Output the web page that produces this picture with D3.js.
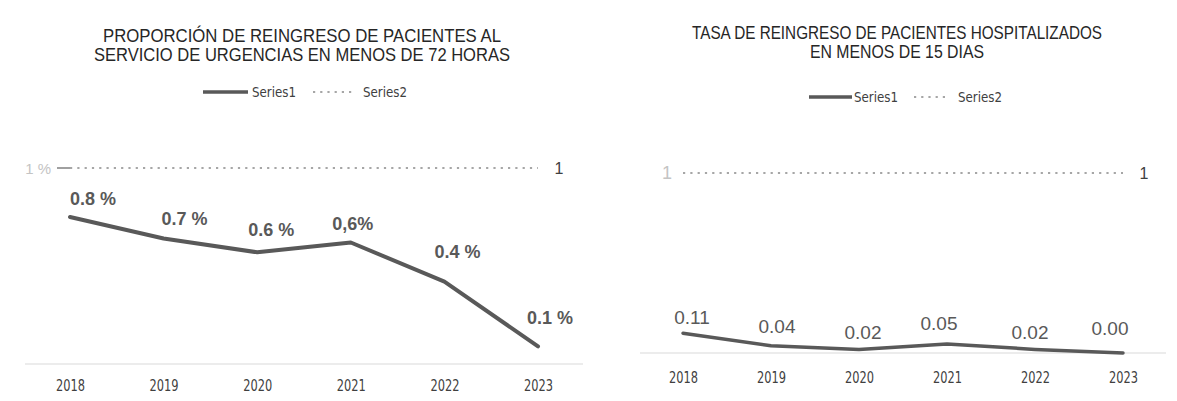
<!DOCTYPE html>
<html>
<head>
<meta charset="utf-8">
<script src="https://cdn.jsdelivr.net/npm/d3@7"></script>
<style>
  html, body { margin: 0; padding: 0; background: #ffffff; }
  svg { display: block; }
</style>
</head>
<body>
<svg id="chart" width="1177" height="401"></svg>
<script>
// ---------- DATA ----------
const years = ["2018", "2019", "2020", "2021", "2022", "2023"];

const leftTitle = ["PROPORCIÓN  DE REINGRESO  DE PACIENTES  AL", "SERVICIO DE URGENCIAS  EN MENOS DE 72 HORAS"];
const leftSeries1 = [0.75, 0.64, 0.57, 0.62, 0.42, 0.09];
const leftSeries2 = [1, 1, 1, 1, 1, 1];
const leftLabels = ["0.8 %", "0.7 %", "0.6 %", "0,6%", "0.4 %", "0.1 %"];
const leftAxisTick = "1 %";
const leftEndLabel = "1";

const rightTitle = ["TASA DE REINGRESO  DE PACIENTES  HOSPITALIZADOS", "EN MENOS DE 15 DIAS"];
const rightSeries1 = [0.11, 0.04, 0.02, 0.05, 0.02, 0.00];
const rightSeries2 = [1, 1, 1, 1, 1, 1];
const rightLabels = ["0.11", "0.04", "0.02", "0.05", "0.02", "0.00"];
const rightAxisTick = "1";
const rightEndLabel = "1";

const seriesNames = ["Series1", "Series2"];

// ---------- LAYOUT ----------
const svg = d3.select("#chart");

function drawPanel(cfg) {
  const g = svg.append("g");
  const x = d3.scalePoint().domain(years).range(cfg.xRange);
  const y = d3.scaleLinear().domain([0, 1]).range(cfg.yRange);

  // title
  cfg.title.forEach((t, i) => {
    g.append("text")
      .attr("x", cfg.titleX).attr("y", cfg.titleY[i])
      .attr("text-anchor", "middle")
      .attr("dominant-baseline", "central")
      .attr("font-family", "'Liberation Sans Narrow', 'Liberation Sans', Arial, sans-serif")
      .attr("font-size", 18)
      .attr("fill", "#262626")
      .attr("textLength", cfg.titleW[i])
      .attr("lengthAdjust", "spacingAndGlyphs")
      .text(t);
  });

  // legend
  const lg = g.append("g");
  const ly = cfg.legendY;
  lg.append("line").attr("x1", cfg.legend[0]).attr("x2", cfg.legend[1]).attr("y1", ly).attr("y2", ly)
    .attr("stroke", "#595959").attr("stroke-width", 3.5);
  lg.append("text").attr("x", cfg.legend[2]).attr("y", ly).attr("dominant-baseline", "central")
    .attr("font-family", "'Liberation Sans Narrow', 'DejaVu Sans Condensed', 'Liberation Sans', sans-serif")
    .attr("font-size", 14).attr("fill", "#404040")
    .attr("textLength", cfg.legendTextW).attr("lengthAdjust", "spacingAndGlyphs")
    .text(seriesNames[0]);
  lg.append("line").attr("x1", cfg.legend[3]).attr("x2", cfg.legend[4]).attr("y1", ly).attr("y2", ly)
    .attr("stroke", "#a6a6a6").attr("stroke-width", 2.2).attr("stroke-dasharray", "2.2,5");
  lg.append("text").attr("x", cfg.legend[5]).attr("y", ly).attr("dominant-baseline", "central")
    .attr("font-family", "'Liberation Sans Narrow', 'DejaVu Sans Condensed', 'Liberation Sans', sans-serif")
    .attr("font-size", 14).attr("fill", "#404040")
    .attr("textLength", cfg.legendTextW).attr("lengthAdjust", "spacingAndGlyphs")
    .text(seriesNames[1]);

  // baseline
  g.append("line")
    .attr("x1", cfg.baseX[0]).attr("x2", cfg.baseX[1])
    .attr("y1", y(0)).attr("y2", y(0))
    .attr("stroke", "#d9d9d9").attr("stroke-width", 1);

  // x axis (years)
  const ax = g.append("g")
    .attr("transform", `translate(0,${y(0)})`)
    .call(d3.axisBottom(x).tickSize(0).tickPadding(cfg.yearPad));
  ax.select(".domain").remove();
  ax.selectAll("text")
    .attr("font-family", "'Liberation Sans Narrow', 'DejaVu Sans Condensed', 'Liberation Sans', sans-serif")
    .attr("font-size", 15).attr("fill", "#404040")
    .attr("textLength", 29).attr("lengthAdjust", "spacingAndGlyphs");

  // y tick label at 1
  g.append("text")
    .attr("x", cfg.tickX).attr("y", y(1))
    .attr("text-anchor", "end").attr("dominant-baseline", "central")
    .attr("font-family", "'Liberation Sans', Arial, sans-serif")
    .attr("font-size", cfg.tickSize).attr("fill", "#c4c4c4")
    .text(cfg.axisTick);
  if (cfg.tickDash) {
    g.append("line").attr("x1", cfg.tickDash[0]).attr("x2", cfg.tickDash[1])
      .attr("y1", y(1)).attr("y2", y(1)).attr("stroke", "#808080").attr("stroke-width", 1.5);
  }

  // series2 dotted
  const line = d3.line().x((d, i) => x(years[i])).y(d => y(d));
  g.append("path").datum(cfg.s2)
    .attr("d", line).attr("fill", "none")
    .attr("stroke", "#a6a6a6").attr("stroke-width", 2.2).attr("stroke-dasharray", "2.2,5.1");

  g.append("text")
    .attr("x", x(years[years.length - 1]) + cfg.endDx).attr("y", y(1))
    .attr("text-anchor", "middle").attr("dominant-baseline", "central")
    .attr("font-family", "'Liberation Sans Narrow', 'Liberation Sans', sans-serif")
    .attr("font-size", 16).attr("fill", "#404040")
    .text(cfg.endLabel);

  // series1
  g.append("path").datum(cfg.s1)
    .attr("d", line).attr("fill", "none")
    .attr("stroke", "#595959").attr("stroke-width", cfg.lineW)
    .attr("stroke-linejoin", "round").attr("stroke-linecap", "round");

  // data labels
  g.selectAll(".lbl").data(cfg.s1).join("text")
    .attr("x", (d, i) => x(years[i]) + cfg.lblDx[i])
    .attr("y", (d, i) => y(d) + cfg.lblDy[i])
    .attr("text-anchor", "middle").attr("dominant-baseline", "central")
    .attr("font-family", cfg.lblFont)
    .attr("font-size", cfg.lblSize).attr("font-weight", cfg.lblWeight)
    .attr("fill", cfg.lblColor)
    .text((d, i) => cfg.labels[i]);
}

drawPanel({
  title: leftTitle, titleX: 302, titleY: [36, 55], titleW: [398, 416],
  legendY: 92, legend: [203, 248, 252, 313, 355, 363], legendTextW: 44,
  xRange: [70, 538], yRange: [364, 168], baseX: [25, 583], yearPad: 16,
  s1: leftSeries1, s2: leftSeries2, labels: leftLabels,
  axisTick: leftAxisTick, tickX: 51, tickSize: 15, tickDash: [57, 71],
  endLabel: leftEndLabel, endDx: 21, lineW: 4,
  lblDx: [23, 21, 14, 2, 13, 12], lblDy: [-18, -20, -22, -18, -30, -28],
  lblFont: "'Liberation Sans', Arial, sans-serif",
  lblSize: 18, lblWeight: "bold", lblColor: "#595959"
});

drawPanel({
  title: rightTitle, titleX: 897, titleY: [33, 52], titleW: [410, 174],
  legendY: 97, legend: [809, 852, 854, 914, 950, 958], legendTextW: 44,
  xRange: [683, 1123], yRange: [353, 173], baseX: [640, 1166], yearPad: 19,
  s1: rightSeries1, s2: rightSeries2, labels: rightLabels,
  axisTick: rightAxisTick, tickX: 672, tickSize: 18, tickDash: null,
  endLabel: rightEndLabel, endDx: 21, lineW: 3.5,
  lblDx: [9, 6, 4, -8, -5, -13], lblDy: [-16, -19, -17, -21, -17, -25],
  lblFont: "'Liberation Sans Narrow', 'Liberation Sans', Arial, sans-serif",
  lblSize: 19, lblWeight: "normal", lblColor: "#595959"
});
</script>
</body>
</html>
